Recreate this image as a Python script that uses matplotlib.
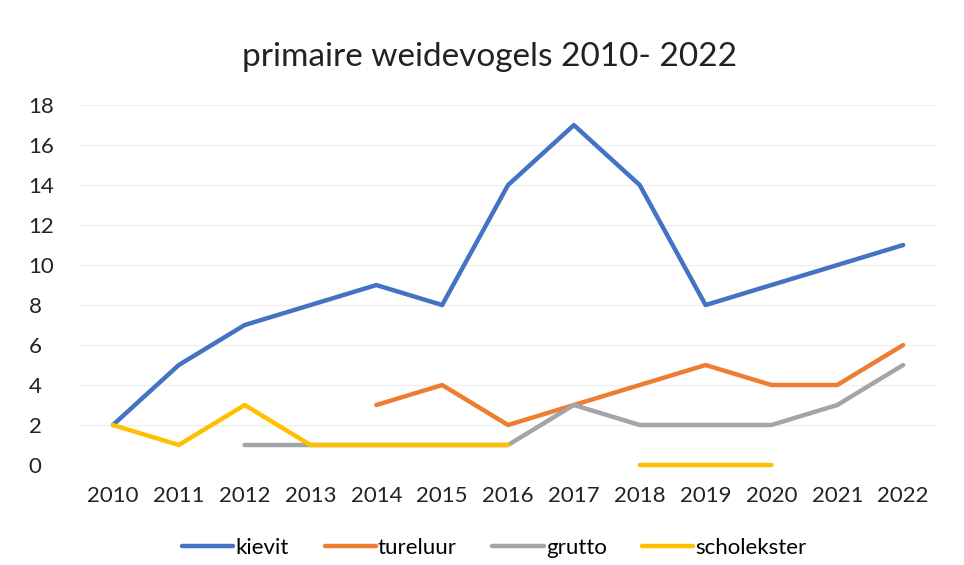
import numpy as np
import matplotlib
matplotlib.use("Agg")
import matplotlib.pyplot as plt

plt.rcParams['font.family'] = ['Lato', 'DejaVu Sans']

years = [2010, 2011, 2012, 2013, 2014, 2015, 2016, 2017, 2018, 2019, 2020, 2021, 2022]
nan = np.nan
kievit = [2, 5, 7, 8, 9, 8, 14, 17, 14, 8, 9, 10, 11]
tureluur = [nan, nan, nan, nan, 3, 4, 2, 3, 4, 5, 4, 4, 6]
grutto = [nan, nan, 1, 1, 1, 1, 1, 3, 2, 2, 2, 3, 5]
scholekster = [2, 1, 3, 1, 1, 1, 1, nan, 0, 0, 0, nan, nan]

series = [("kievit", kievit, "#4472C4"),
          ("tureluur", tureluur, "#ED7D31"),
          ("grutto", grutto, "#A5A5A5"),
          ("scholekster", scholekster, "#FFC000")]

fig = plt.figure(figsize=(9.64, 5.65), dpi=100)
ax = fig.add_axes([0.083, 0.177, 0.888, 0.637])
x = np.arange(len(years))
for name, vals, col in series:
    ax.plot(x, np.array(vals, dtype=float), color=col, lw=3.2, label=name,
            solid_capstyle='round', solid_joinstyle='round', clip_on=False)

ax.set_xlim(-0.5, len(years) - 0.5)
ax.set_ylim(0, 18)
ax.set_yticks(range(0, 19, 2))
ax.set_xticks(x)
ax.set_xticklabels([str(y) for y in years])
ax.tick_params(length=0, labelsize=16, colors="#222222")
ax.tick_params(axis='x', pad=15)
for lab in ax.get_yticklabels():
    lab.set_horizontalalignment('left')
ax.yaxis.set_tick_params(pad=37)
ax.grid(axis='y', color="#ededed", lw=0.8)
ax.set_axisbelow(True)
for s in ax.spines.values():
    s.set_visible(False)

fig.text(0.508, 0.9, "primaire weidevogels 2010- 2022", ha='center', va='center',
         fontsize=24, color="#222222")
fig.legend(loc='center', bbox_to_anchor=(0.513, 0.03), ncol=4, frameon=False,
           fontsize=16, handlelength=2.3, handletextpad=0.1, columnspacing=1.6)
fig.savefig("out.png", dpi=100)
